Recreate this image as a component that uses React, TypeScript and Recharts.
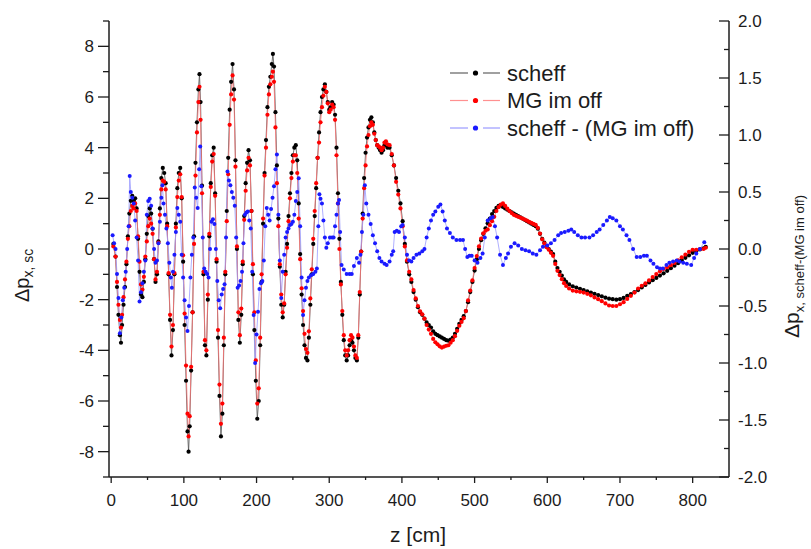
import React from 'react';
import { ComposedChart, Line, XAxis, YAxis } from 'recharts';

// z positions [cm] shared by "scheff" and "MG im off"
const zScheff = [
  3, 6, 8, 10, 12, 13.5, 15, 17, 19, 21,
  23, 25, 27, 29, 31, 33, 35, 37, 39, 41,
  43, 45, 47, 49, 51, 53, 55, 57, 59, 61,
  63, 65, 67, 69, 71, 73, 75, 77, 79, 81,
  83, 85, 87, 89, 91, 93, 95, 97, 99, 101,
  103, 105, 106.5, 108, 110, 112, 114, 116, 118, 120,
  121.5, 123, 125, 127, 129, 131, 133, 135, 137, 139,
  141, 143, 145, 147, 149, 151, 153, 155, 157, 159,
  161, 163, 165, 167, 169, 171, 173, 175, 177, 179,
  181, 183, 185, 187, 189, 191, 193, 195, 197, 199,
  201, 203, 205, 207, 209, 211, 213, 215, 217, 219,
  221, 222.5, 224, 226, 228, 230, 232, 234, 236, 238,
  240, 242, 244, 246, 248, 250, 252, 254, 256, 258,
  260, 262, 264, 266, 268, 270, 272, 274, 276, 278,
  280, 282, 284, 286, 288, 290, 292, 294, 296, 298,
  300, 302, 304, 306, 308, 310, 312, 314, 316, 318,
  320, 322, 324, 326, 328, 330, 332, 334, 336, 338,
  340, 342, 344, 346, 348, 350, 352, 354, 356, 358,
  360, 362, 364, 366, 368, 370, 372, 374, 376, 378,
  380, 383, 386, 389, 392, 395, 398, 401, 404, 407,
  410, 413, 416, 419, 422, 425, 428, 431, 434, 437,
  440, 443, 446, 449, 452, 455, 458, 461, 464, 467,
  470, 473, 476, 479, 482, 485, 488, 491, 494, 497,
  500, 503, 506, 509, 512, 515, 518, 521, 524, 527,
  530, 533, 536, 539, 542, 545, 548, 551, 554, 557,
  560, 563, 566, 569, 572, 575, 578, 581, 584, 587,
  590, 593, 596, 599, 602, 605, 608, 611, 614, 617,
  620, 623, 626, 630, 635, 640, 645, 650, 655, 660,
  665, 670, 675, 680, 685, 690, 695, 700, 705, 710,
  715, 720, 725, 730, 735, 740, 745, 750, 755, 760,
  765, 770, 775, 780, 785, 790, 795, 800, 805, 810,
  815, 818,
];

const scheff = [
  0.2, -0.3, -1.5, -2.6, -3.4, -3.7, -3.0, -2.2, -1.5, -0.6,
  0.5, 1.4, 1.9, 2.1, 1.9, 2.0, 1.6, 0.4, -0.9, -1.8,
  -1.9, -1.3, -0.4, 0.6, 1.3, 1.6, 1.4, 0.8, -0.4, -1.3,
  -1.0, 0.3, 1.6, 2.8, 3.2, 3.0, 2.6, 1.0, -1.0, -2.8,
  -4.2, -3.2, -1.0, 1.0, 2.4, 3.0, 3.2, 2.0, -0.5, -3.0,
  -5.2, -7.2, -8.0, -7.0, -4.8, -2.5, 0.5, 3.4, 5.0, 6.3,
  6.9, 5.8, 2.5, -1.0, -3.8, -4.2, -2.0, 0.5, 2.6, 3.7,
  4.0, 2.2, -0.5, -3.5, -5.8, -7.4, -6.5, -3.8, -1.0, 1.5,
  3.6, 5.5, 6.6, 7.3, 6.3, 3.5, 0.0, -2.8, -3.7, -2.6,
  -0.6, 1.3, 2.6, 3.4, 3.9, 3.5, 1.5, -1.0, -3.2, -5.2,
  -6.7, -6.0, -3.8, -1.3, 1.0, 3.0, 4.3, 5.6, 6.4, 6.8,
  7.3, 7.7, 7.2, 5.4, 3.3, 1.2, -0.7, -2.2, -2.7, -2.2,
  -0.9, 0.2, 1.3, 2.2, 3.0, 3.7, 4.0, 4.1, 3.5, 1.8,
  -0.2, -1.8, -3.0, -3.8, -4.3, -4.4, -3.5, -2.2, -1.0, 0.2,
  1.3, 2.4, 3.6, 4.6, 5.4, 6.0, 6.3, 6.5, 6.2, 5.8,
  5.5, 5.6, 5.8, 5.7, 5.3, 4.0, 2.2, 0.4, -1.3, -2.6,
  -3.6, -4.2, -4.4, -4.2, -3.8, -3.6, -3.7, -4.0, -4.3, -4.4,
  -3.5, -1.8, -0.1, 1.4, 2.8, 3.8, 4.4, 4.8, 5.1, 5.2,
  5.0, 4.6, 4.3, 4.1, 4.0, 3.9, 3.8, 3.9, 4.1, 4.1,
  4.0, 4.0, 3.7, 3.3, 2.8, 2.3, 1.8, 1.1, 0.2, -0.5,
  -1.0, -1.3, -1.7, -2.0, -2.3, -2.5, -2.6, -2.75, -2.9, -3.0,
  -3.1, -3.25, -3.35, -3.4, -3.45, -3.5, -3.55, -3.6, -3.62, -3.58,
  -3.5, -3.35, -3.15, -2.95, -2.8, -2.65, -2.45, -2.1, -1.7, -1.3,
  -0.85, -0.4, 0.0, 0.35, 0.6, 0.82, 1.02, 1.2, 1.38, 1.5,
  1.62, 1.7, 1.72, 1.66, 1.6, 1.55, 1.5, 1.45, 1.4, 1.35,
  1.3, 1.25, 1.2, 1.15, 1.1, 1.05, 1.0, 0.95, 0.9, 0.8,
  0.6, 0.4, 0.25, 0.1, 0.0, -0.1, -0.2, -0.5, -0.75, -0.9,
  -1.05, -1.2, -1.3, -1.4, -1.47, -1.52, -1.57, -1.62, -1.67, -1.72,
  -1.77, -1.82, -1.87, -1.92, -1.96, -1.98, -2.0, -1.98, -1.93, -1.85,
  -1.78, -1.7, -1.62, -1.52, -1.42, -1.32, -1.23, -1.14, -1.05, -0.96,
  -0.86, -0.76, -0.66, -0.56, -0.45, -0.35, -0.25, -0.15, -0.08, -0.02,
  0.03, 0.08,
];

const mgImOff = [
  0.1, -0.3, -1.3, -2.2, -2.8, -3.1, -2.6, -1.9, -1.2, -0.5,
  0.4, 0.9, 1.5, 1.7, 1.6, 1.8, 1.5, 0.5, -0.5, -1.4,
  -1.6, -1.1, -0.3, 0.3, 0.9, 1.2, 1.0, 0.6, -0.4, -1.2,
  -0.9, 0.25, 1.35, 2.35, 2.7, 2.65, 2.35, 0.9, -0.95, -2.6,
  -3.85, -3.0, -0.95, 0.85, 2.05, 2.7, 2.95, 2.05, -0.25, -2.55,
  -4.6, -6.5, -7.4, -6.6, -4.65, -2.5, 0.2, 2.9, 4.6, 5.8,
  6.4, 5.1, 2.2, -0.9, -3.6, -4.0, -1.8, 0.6, 2.45, 3.45,
  3.75, 2.1, -0.4, -3.2, -5.35, -6.9, -6.1, -3.5, -0.9, 1.1,
  2.95, 4.9, 6.1, 6.85, 5.9, 3.25, 0.1, -2.5, -3.4, -2.35,
  -0.5, 1.15, 2.3, 3.1, 3.6, 3.3, 1.5, -0.6, -2.5, -4.4,
  -6.1, -5.5, -3.5, -1.0, 1.2, 2.9, 4.0, 5.3, 6.1, 6.5,
  6.8, 7.0, 6.6, 4.8, 2.6, 0.9, -0.6, -1.8, -2.5, -2.15,
  -1.0, 0.05, 1.1, 2.0, 2.8, 3.45, 3.7, 3.7, 3.0, 1.2,
  -0.4, -1.55, -2.45, -3.35, -3.95, -4.1, -3.25, -1.95, -0.8, 0.4,
  1.5, 2.6, 3.6, 4.2, 5.0, 5.6, 6.05, 6.4, 6.2, 5.75,
  5.4, 5.5, 5.7, 5.6, 5.1, 3.7, 1.8, 0.0, -1.4, -2.45,
  -3.4, -4.0, -4.2, -4.0, -3.6, -3.4, -3.5, -3.85, -4.2, -4.3,
  -3.4, -1.7, -0.1, 1.2, 2.4, 3.3, 4.05, 4.5, 4.85, 5.0,
  4.9, 4.55, 4.3, 4.1, 4.05, 4.0, 3.9, 4.0, 4.2, 4.25,
  4.13, 4.1, 3.75, 3.3, 2.65, 2.15, 1.6, 0.9, 0.1, -0.45,
  -0.9, -1.2, -1.62, -1.95, -2.25, -2.46, -2.58, -2.75, -3.0, -3.18,
  -3.35, -3.55, -3.68, -3.76, -3.84, -3.89, -3.85, -3.82, -3.8, -3.7,
  -3.6, -3.44, -3.23, -3.03, -2.88, -2.73, -2.45, -2.03, -1.64, -1.24,
  -0.75, -0.28, 0.1, 0.41, 0.62, 0.72, 0.77, 0.94, 1.1, 1.27,
  1.5, 1.65, 1.75, 1.8, 1.7, 1.59, 1.5, 1.42, 1.35, 1.31,
  1.27, 1.24, 1.2, 1.16, 1.12, 1.07, 1.03, 0.99, 0.95, 0.83,
  0.61, 0.38, 0.22, 0.07, -0.03, -0.15, -0.27, -0.59, -0.86, -1.03,
  -1.19, -1.35, -1.46, -1.56, -1.64, -1.67, -1.69, -1.72, -1.77, -1.83,
  -1.91, -1.98, -2.06, -2.15, -2.23, -2.25, -2.25, -2.18, -2.1, -1.97,
  -1.85, -1.72, -1.56, -1.45, -1.36, -1.24, -1.11, -0.99, -0.88, -0.79,
  -0.72, -0.64, -0.55, -0.45, -0.33, -0.22, -0.11, -0.03, -0.03, 0.0,
  0.0, 0.05,
];

// difference curve, right axis
const zDiff = [
  2, 4, 6, 8, 10, 12, 14, 16, 18, 20,
  22, 24, 25.5, 27, 29, 31, 33, 35, 37, 39,
  41, 43, 45, 47, 49, 51, 53, 55, 57, 59,
  61, 63, 65, 67, 69, 70.5, 72, 74, 76, 78,
  80, 82, 83.5, 85, 87, 89, 91, 93, 95, 97,
  99, 101, 103, 105, 107, 109, 111, 113, 115, 117,
  119, 121, 122.5, 124, 126, 128, 130, 132, 134, 136,
  138, 140, 142, 144, 146, 148, 150, 152, 154, 156,
  158, 160, 162, 164, 166, 168, 170, 172, 174, 176,
  178, 180, 182, 184, 186, 188, 190, 192, 194, 196,
  198, 200, 202, 204, 206, 208, 210, 212, 214, 216,
  218, 220, 222, 224, 226, 228, 230, 232, 234, 236,
  238, 240, 242, 244, 246, 248, 250, 252, 254, 256,
  258, 260, 262, 264, 266, 268, 270, 272, 275, 278,
  281, 283, 285, 286.5, 288, 290, 292, 294, 296, 298,
  301, 304, 306, 308, 310, 312, 313.5, 315, 317, 320,
  324, 328, 331, 334, 338, 341, 343, 345, 347, 349,
  351, 354, 357, 360, 363, 366, 369, 372, 376, 379,
  383, 386, 388, 390, 393, 396, 399, 401, 404, 407,
  410, 413, 416, 420, 424, 428, 431, 434, 437, 440,
  443, 446, 450, 453, 456, 459, 462, 466, 470, 475,
  480, 484, 487, 490, 493, 496, 500, 504, 508, 511,
  514, 518, 522, 525, 528, 531, 535, 539, 543, 546,
  550, 555, 560, 565, 570, 575, 580, 585, 590, 594,
  600, 605, 610, 615, 619, 624, 629, 633, 637, 642,
  647, 652, 658, 663, 668, 672, 677, 682, 686, 690,
  695, 700, 704, 709, 713, 718, 723, 728, 733, 737,
  742, 746, 751, 755, 759, 764, 768, 773, 778, 782,
  787, 792, 798, 802, 805, 810, 816,
];

const scheffMinusMg = [
  0.12, 0.05, 0.0, -0.22, -0.43, -0.74, -0.6, -0.45, -0.34, -0.2,
  0.0, 0.2, 0.64, 0.5, 0.45, 0.4, 0.25, 0.1, -0.1, -0.46,
  -0.38, -0.3, -0.2, -0.1, 0.3, 0.42, 0.44, 0.38, 0.18, 0.0,
  -0.12, -0.1, 0.05, 0.24, 0.45, 0.56, 0.4, 0.3, 0.18, 0.05,
  -0.12, -0.25, -0.34, -0.2, -0.05, 0.15, 0.36, 0.3, 0.24, -0.05,
  -0.25, -0.45, -0.6, -0.72, -0.5, -0.25, -0.05, 0.1, 0.54, 0.45,
  0.36, 0.7, 0.9, 0.55, 0.1, -0.17, -0.2, -0.22, -0.25, 0.0,
  0.24, 0.26, 0.22, 0.0, -0.28, -0.45, -0.52, -0.4, -0.35, -0.31,
  0.1, 0.68, 0.6, 0.56, 0.5, 0.45, 0.38, 0.1, -0.34, -0.32,
  -0.28, -0.2, 0.05, 0.3, 0.32, 0.33, 0.25, 0.18, -0.2, -0.58,
  -1.0, -0.75, -0.55, -0.35, -0.3, -0.28, -0.1, 0.2, 0.36, 0.3,
  0.25, 0.35, 0.45, 0.55, 0.7, 0.83, 0.3, -0.1, -0.43, -0.2,
  -0.05, 0.1, 0.15, 0.18, 0.21, 0.22, 0.24, 0.3, 0.42, 0.5,
  0.62, 0.2, -0.25, -0.58, -0.45, -0.34, -0.28, -0.25, -0.23, -0.22,
  -0.2, -0.17, 0.2, 0.48, 0.44, 0.4, 0.25, 0.1, 0.01, 0.05,
  0.1, 0.1, 0.1, 0.2, 0.3, 0.4, 0.43, 0.15, -0.14, -0.18,
  -0.22, -0.22, -0.22, -0.15, -0.08, -0.12, -0.05, 0.15, 0.3, 0.56,
  0.4, 0.3, 0.22, 0.12, 0.05, -0.02, -0.08, -0.11, -0.13, -0.14,
  -0.11, -0.05, -0.02, 0.15, 0.16, 0.15, 0.2, 0.21, 0.1, -0.05,
  -0.1, -0.11, -0.08, -0.05, -0.04, -0.02, 0.0, 0.1, 0.18, 0.25,
  0.3, 0.33, 0.37, 0.39, 0.33, 0.25, 0.18, 0.14, 0.1, 0.08,
  0.08, 0.08, 0.0, -0.07, -0.06, -0.06, -0.1, -0.12, -0.08, -0.04,
  0.1, 0.25, 0.27, 0.28, 0.2, 0.1, -0.05, -0.14, -0.08, -0.04,
  0.02, 0.05, 0.03, 0.0, -0.01, -0.02, -0.04, -0.05, -0.01, 0.02,
  0.03, 0.05, 0.08, 0.12, 0.14, 0.15, 0.16, 0.17, 0.15, 0.12,
  0.1, 0.1, 0.1, 0.12, 0.15, 0.17, 0.21, 0.25, 0.28, 0.27,
  0.25, 0.2, 0.17, 0.12, 0.08, 0.0, -0.07, -0.07, -0.06, -0.06,
  -0.1, -0.13, -0.16, -0.17, -0.17, -0.14, -0.12, -0.11, -0.1, -0.11,
  -0.12, -0.13, -0.14, -0.08, -0.04, 0.0, 0.06,
];

const xTicks = [0, 50, 100, 150, 200, 250, 300, 350, 400, 450, 500, 550, 600, 650, 700, 750, 800];
const leftTicks = [-9, -8, -7, -6, -5, -4, -3, -2, -1, 0, 1, 2, 3, 4, 5, 6, 7, 8, 9];
const rightTicks = [-2, -1.75, -1.5, -1.25, -1, -0.75, -0.5, -0.25, 0, 0.25, 0.5, 0.75, 1, 1.25, 1.5, 1.75, 2];

const legendItems = [
  { name: 'scheff', dot: '#000000', line: '#606060' },
  { name: 'MG im off', dot: '#ff0000', line: '#ff9090' },
  { name: 'scheff - (MG im off)', dot: '#1a1aff', line: '#9a9aff' },
];

const AXIS = '#1c1c1c';
const FONT = '"Liberation Sans", Arial, Helvetica, sans-serif';

const scheffRows = zScheff.map((z, i) => ({ z, v: scheff[i] }));
const mgRows = zScheff.map((z, i) => ({ z, v: mgImOff[i] }));
const diffRows = zDiff.map((z, i) => ({ z, v: scheffMinusMg[i] }));

function BottomTick(props: any) {
  const { x, y, payload } = props;
  const major = payload.value % 100 === 0;
  return (
    <g>
      <line x1={x} y1={y} x2={x} y2={y + (major ? 6 : 3)} stroke={AXIS} strokeWidth={1.3} />
      {major && (
        <text x={x} y={y + 29} textAnchor="middle" fontSize={17} fill={AXIS} fontFamily={FONT}>
          {payload.value}
        </text>
      )}
    </g>
  );
}

function LeftTick(props: any) {
  const { x, y, payload } = props;
  const v = payload.value;
  const major = v % 2 === 0;
  return (
    <g>
      <line x1={x} y1={y} x2={x - (major ? 11 : 6)} y2={y} stroke={AXIS} strokeWidth={1.3} />
      {major && (
        <text x={x - 15} y={y} dy="0.36em" textAnchor="end" fontSize={17} fill={AXIS} fontFamily={FONT}>
          {v}
        </text>
      )}
    </g>
  );
}

function RightTick(props: any) {
  const { x, y, payload } = props;
  const v = payload.value;
  const major = Math.abs(v * 2 - Math.round(v * 2)) < 1e-6;
  return (
    <g>
      <line x1={x} y1={y} x2={x - (major ? 10 : 5)} y2={y} stroke={AXIS} strokeWidth={1.3} />
      {major && (
        <text x={x + 9} y={y} dy="0.36em" textAnchor="start" fontSize={17} fill={AXIS} fontFamily={FONT}>
          {v.toFixed(1)}
        </text>
      )}
    </g>
  );
}

export default function App() {
  return (
    <div style={{ position: 'absolute', left: 0, top: 0, width: 811, height: 549, background: '#fff', fontFamily: FONT }}>
      <ComposedChart width={811} height={549} margin={{ top: 21, right: 22, bottom: 32, left: 49 }}>
        <XAxis
          type="number"
          dataKey="z"
          domain={[-3, 850]}
          ticks={xTicks}
          interval={0}
          allowDataOverflow
          height={40}
          tickSize={0}
          tickMargin={0}
          tickLine={false}
          axisLine={{ stroke: AXIS, strokeWidth: 1.5 }}
          tick={(p: any) => <BottomTick {...p} />}
        />
        <YAxis
          yAxisId="left"
          type="number"
          domain={[-9, 9]}
          ticks={leftTicks}
          interval={0}
          allowDataOverflow
          width={60}
          tickSize={0}
          tickMargin={0}
          tickLine={false}
          axisLine={{ stroke: AXIS, strokeWidth: 1.5 }}
          tick={(p: any) => <LeftTick {...p} />}
        />
        <YAxis
          yAxisId="right"
          orientation="right"
          type="number"
          domain={[-2, 2]}
          ticks={rightTicks}
          interval={0}
          allowDataOverflow
          width={60}
          tickSize={0}
          tickMargin={0}
          tickLine={false}
          axisLine={{ stroke: AXIS, strokeWidth: 1.5 }}
          tick={(p: any) => <RightTick {...p} />}
        />
        <Line
          yAxisId="left"
          data={scheffRows}
          dataKey="v"
          name="scheff"
          type="linear"
          stroke="#505050"
          strokeWidth={0.8}
          dot={{ r: 2.1, fill: '#000', stroke: 'none' }}
          isAnimationActive={false}
        />
        <Line
          yAxisId="left"
          data={mgRows}
          dataKey="v"
          name="MG im off"
          type="linear"
          stroke="#ff7070"
          strokeWidth={0.8}
          dot={{ r: 2.1, fill: '#ff0000', stroke: 'none' }}
          isAnimationActive={false}
        />
        <Line
          yAxisId="right"
          data={diffRows}
          dataKey="v"
          name="scheff - (MG im off)"
          type="linear"
          stroke="#9a9aff"
          strokeWidth={0.8}
          dot={{ r: 2, fill: '#1a1aff', stroke: 'none' }}
          isAnimationActive={false}
        />
      </ComposedChart>
      <svg width={811} height={549} style={{ position: 'absolute', left: 0, top: 0, pointerEvents: 'none' }}>
        {legendItems.map((it, i) => {
          const cy = 73 + i * 27.5;
          return (
            <g key={it.name}>
              <line x1={450} y1={cy} x2={468} y2={cy} stroke={it.line} strokeWidth={1.2} />
              <line x1={483} y1={cy} x2={500} y2={cy} stroke={it.line} strokeWidth={1.2} />
              <circle cx={475.5} cy={cy} r={2.6} fill={it.dot} />
              <text x={507} y={cy} dy="0.36em" fontSize={22} fill={AXIS} fontFamily={FONT}>
                {it.name}
              </text>
            </g>
          );
        })}
        <text x={29} y={302} transform="rotate(-90 29 302)" fontSize={20} fill={AXIS} fontFamily={FONT}>
          Δp<tspan fontSize={14} dy={4}>x, sc</tspan>
        </text>
        <text x={799} y={338} transform="rotate(-90 799 338)" fontSize={21} fill={AXIS} fontFamily={FONT}>
          Δp<tspan fontSize={13} dy={5}>x, scheff-(MG im off)</tspan>
        </text>
        <text x={418} y={542} textAnchor="middle" fontSize={21} fill={AXIS} fontFamily={FONT}>
          z [cm]
        </text>
      </svg>
    </div>
  );
}
